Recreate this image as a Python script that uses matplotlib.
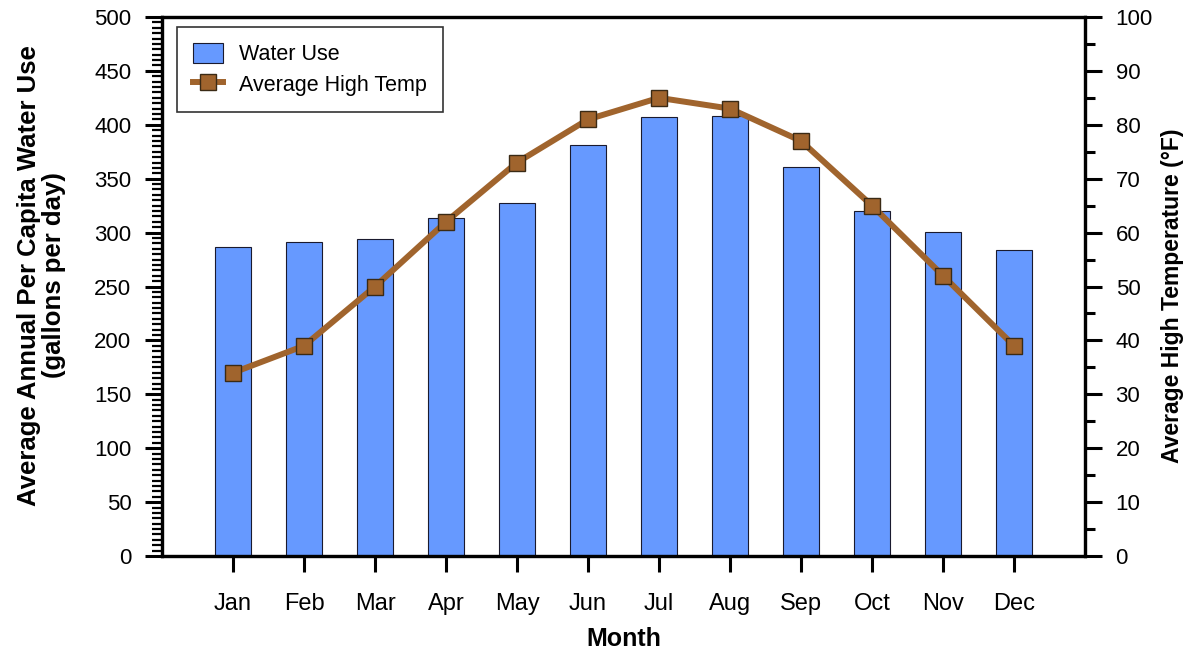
import matplotlib
matplotlib.use("Agg")
import matplotlib.pyplot as plt
from matplotlib.ticker import MultipleLocator

months = ["Jan", "Feb", "Mar", "Apr", "May", "Jun", "Jul", "Aug", "Sep", "Oct", "Nov", "Dec"]
water_use = [287, 291, 294, 314, 327, 381, 407, 408, 361, 320, 301, 284]
avg_high_temp = [34, 39, 50, 62, 73, 81, 85, 83, 77, 65, 52, 39]

plt.rcParams['font.family'] = ['Liberation Sans', 'DejaVu Sans']

fig = plt.figure(figsize=(11.93, 6.53), dpi=100)
ax = fig.add_axes([0.1358, 0.1485, 0.7737, 0.8255])
x = list(range(len(months)))

ax.bar(x, water_use, width=0.5, color='#6699FF', edgecolor='#1a1a2e', linewidth=0.8,
       label='Water Use', zorder=2)
ax.set_xlim(-1, 12)
ax.set_ylim(0, 500)
ax.yaxis.set_major_locator(MultipleLocator(50))
ax.yaxis.set_minor_locator(MultipleLocator(5))
ax.set_xticks(x)
ax.set_xticklabels(months, fontsize=17)
ax.tick_params(axis='x', direction='out', length=11.5, width=2.2, pad=15)
ax.tick_params(axis='y', which='major', direction='out', length=12, width=2.2, labelsize=16, pad=10)
ax.tick_params(axis='y', which='minor', direction='out', length=7, width=1.6)
for s in ax.spines.values():
    s.set_linewidth(2.3)

ax.set_xlabel('Month', fontsize=18, fontweight='bold', labelpad=9)
ax.set_ylabel('Average Annual Per Capita Water Use\n(gallons per day)', fontsize=18.5,
              fontweight='bold', linespacing=1.05)
ax.yaxis.set_label_coords(-0.104, 0.521)

ax2 = ax.twinx()
ax2.plot(x, avg_high_temp, color='#A0642D', linewidth=4.3, marker='s', markersize=11,
         markerfacecolor='#A0642D', markeredgecolor='#3a2a15', markeredgewidth=1.0,
         label='Average High Temp', zorder=3)
ax2.set_ylim(0, 100)
ax2.yaxis.set_major_locator(MultipleLocator(10))
ax2.yaxis.set_minor_locator(MultipleLocator(5))
ax2.tick_params(axis='y', which='major', direction='out', length=12, width=2.2, labelsize=16, pad=10)
ax2.tick_params(axis='y', which='minor', direction='out', length=7, width=2.2)
for s in ax2.spines.values():
    s.set_linewidth(2.3)
ax2.set_ylabel('Average High Temperature (°F)', fontsize=16.5, fontweight='bold')
ax2.yaxis.set_label_coords(1.082, 0.482)

h1, l1 = ax.get_legend_handles_labels()
h2, l2 = ax2.get_legend_handles_labels()
leg = ax2.legend(h1 + h2, l1 + l2, loc='upper left', bbox_to_anchor=(0.016, 0.982),
                 prop={'size': 15.5}, frameon=True, fancybox=False, edgecolor='black',
                 borderpad=0.75, labelspacing=0.35, handlelength=1.4, handleheight=1.1,
                 handletextpad=0.75, borderaxespad=0)
leg.get_frame().set_linewidth(1.2)

fig.savefig('out.png', dpi=100)
